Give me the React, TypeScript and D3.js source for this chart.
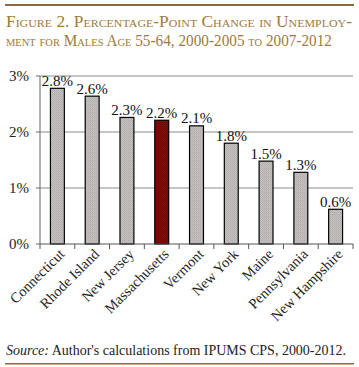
import React from "react";
import * as d3 from "d3";

const categories = ["Connecticut", "Rhode Island", "New Jersey", "Massachusetts", "Vermont", "New York", "Maine", "Pennsylvania", "New Hampshire"];
const values = [2.78, 2.64, 2.26, 2.21, 2.11, 1.8, 1.48, 1.28, 0.62];
const valueLabels = ["2.8%", "2.6%", "2.3%", "2.2%", "2.1%", "1.8%", "1.5%", "1.3%", "0.6%"];
const highlight = ["Massachusetts"];
const yTicks = [0, 1, 2, 3];
const titleLines = ["Figure 2. Percentage-Point Change in Unemploy-", "ment for Males Age 55-64, 2000-2005 to 2007-2012"];

export default function App() {
  const W = 359, H = 367;
  const x = d3.scaleBand<string>().domain(categories).range([40, 353]).paddingInner(0.6).paddingOuter(0.3);
  const y = d3.scaleLinear().domain([0, 3]).range([244, 76]);
  const step = x.step();
  const brown = "#8a6a3a";
  const titleColor = "#a07a3c";
  return (
    <svg width={W} height={H} style={{ position: "absolute", left: 0, top: 0, background: "#fff" }}>
      <defs>
        <pattern id="grayDither" width="2" height="2" patternUnits="userSpaceOnUse">
          <rect width="2" height="2" fill="#c6c2c2" />
          <rect width="1" height="1" fill="#aeaaaa" />
          <rect x="1" y="1" width="1" height="1" fill="#b8b4b4" />
        </pattern>
        <pattern id="redDither" width="2" height="2" patternUnits="userSpaceOnUse">
          <rect width="2" height="2" fill="#8e0a0a" />
          <rect width="1" height="1" fill="#6a0000" />
          <rect x="1" y="1" width="1" height="1" fill="#7a0505" />
        </pattern>
      </defs>
      <rect x={5} y={4} width={349} height={2} fill={brown} />
      {titleLines.map((t, i) => (
        <text key={i} x={6} y={27 + i * 19} fontFamily="Liberation Serif, serif" fontSize={16} fill={titleColor}
          style={{ fontVariant: "small-caps" }} textLength={i === 0 ? 346 : 326} lengthAdjust="spacingAndGlyphs">{t}</text>
      ))}
      {yTicks.map((t) => (
        <g key={t}>
          {t > 0 && <line x1={40} x2={353} y1={y(t)} y2={y(t)} stroke="#8c8c8c" strokeWidth={1} />}
          <text x={29} y={y(t) + 5} textAnchor="end" fontFamily="Liberation Serif, serif" fontSize={15} fill="#222">{t}%</text>
          <line x1={36} x2={40} y1={y(t)} y2={y(t)} stroke="#666" />
        </g>
      ))}
      <line x1={40} x2={40} y1={y(3)} y2={y(0)} stroke="#666" />
      {categories.map((c, i) => (
        <g key={c}>
          <rect x={x(c)} y={y(values[i])} width={x.bandwidth()} height={y(0) - y(values[i])}
            fill={highlight.includes(c) ? "url(#redDither)" : "url(#grayDither)"} stroke="#000" strokeWidth={1.2} />
          <text x={(x(c) as number) + x.bandwidth() / 2} y={y(values[i]) - 2.5} textAnchor="middle"
            fontFamily="Liberation Serif, serif" fontSize={15} fill="#111">{valueLabels[i]}</text>
        </g>
      ))}
      <line x1={40} x2={353} y1={y(0)} y2={y(0)} stroke="#555" strokeWidth={1} />
      {d3.range(categories.length + 1).map((i) => (
        <line key={i} x1={40 + i * step} x2={40 + i * step} y1={y(0)} y2={y(0) + 5} stroke="#555" />
      ))}
      {categories.map((c) => {
        const cx = (x(c) as number) + x.bandwidth() / 2;
        return (
          <text key={c} transform={`translate(${cx + 8},${255}) rotate(-45)`} textAnchor="end"
            fontFamily="Liberation Serif, serif" fontSize={14.5} fill="#222">{c}</text>
        );
      })}
      <text x={6} y={355} fontFamily="Liberation Serif, serif" fontSize={14.5} fill="#222"
        textLength={340} lengthAdjust="spacingAndGlyphs">
        <tspan fontStyle="italic">Source:</tspan> Author's calculations from IPUMS CPS, 2000-2012.
      </text>
      <rect x={5} y={363} width={349} height={1.5} fill={brown} />
    </svg>
  );
}
